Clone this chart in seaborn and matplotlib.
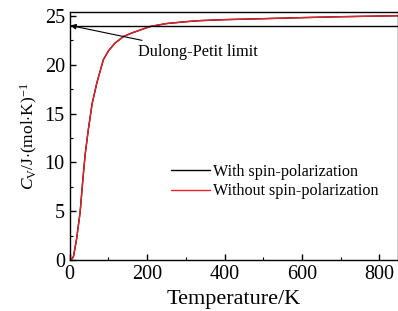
import numpy as np
import pandas as pd
import matplotlib
matplotlib.use("Agg")
import matplotlib.pyplot as plt
import seaborn as sns

# Data
temperature = [0, 5, 10, 18, 27, 34, 40, 48, 58, 70, 87, 100, 117, 140, 165, 208, 250, 303, 337, 400, 500, 595, 700, 848]
cv_without = [0, 0.1, 0.4, 2.2, 4.9, 8.2, 10.8, 13.3, 16.0, 18.1, 20.5, 21.4, 22.2, 22.9, 23.3, 23.9, 24.2, 24.4, 24.5, 24.6, 24.7, 24.8, 24.9, 25.0]
cv_with = cv_without
dulong_petit = 24.0

sns.set_theme(style="ticks")
plt.rcParams['font.family'] = ['Liberation Serif', 'DejaVu Serif']
plt.rcParams['mathtext.fontset'] = 'custom'
plt.rcParams['mathtext.rm'] = 'Liberation Serif'
plt.rcParams['mathtext.it'] = 'Liberation Serif:italic'

df = pd.DataFrame({"T": temperature, "with": cv_with, "without": cv_without})

fig, ax = plt.subplots(figsize=(3.98, 3.11), dpi=100)
fig.subplots_adjust(left=0.175, right=1.0, top=0.962, bottom=0.163)

sns.lineplot(data=df, x="T", y="with", ax=ax, color="black", lw=1.0, label="With spin-polarization")
sns.lineplot(data=df, x="T", y="without", ax=ax, color="#e8202a", lw=1.0, label="Without spin-polarization")
ax.axhline(dulong_petit, color="black", lw=1.0)

ax.set_xlim(0, 848)
ax.set_ylim(0, 25.4)
ax.set_xticks([0, 200, 400, 600, 800])
ax.set_yticks([0, 5, 10, 15, 20, 25])
ax.set_xticks([100, 300, 500, 700], minor=True)
ax.set_yticks([2.5, 7.5, 12.5, 17.5, 22.5], minor=True)
ax.tick_params(direction="in", which="both", labelsize=14.5, color="black", labelcolor="black")
ax.tick_params(which="major", length=4, width=1)
ax.tick_params(which="minor", length=2.5, width=0.8)
for s in ax.spines.values():
    s.set_color("black")
    s.set_linewidth(1.0)

ax.set_xlabel("Temperature/K", fontsize=16, color="black", labelpad=4)
ax.set_ylabel(r"$C_{\mathrm{V}}$/J$\cdot$(mol$\cdot$K)$^{-1}$", fontsize=12.5, color="black", labelpad=3)

ax.annotate("Dulong-Petit limit", xy=(2, dulong_petit), xytext=(176, 21.3),
            fontsize=11.8, color="black", va="center", ha="left",
            arrowprops=dict(arrowstyle="-|>", color="black", lw=0.8, mutation_scale=8, shrinkA=1, shrinkB=0))

leg = ax.legend(loc="upper left", bbox_to_anchor=(0.29, 0.413), frameon=False, fontsize=11.6,
                handlelength=2.4, handletextpad=0.2, labelspacing=0.2, borderaxespad=0)
for t in leg.get_texts():
    t.set_color("black")

fig.savefig("out.png", dpi=100)
